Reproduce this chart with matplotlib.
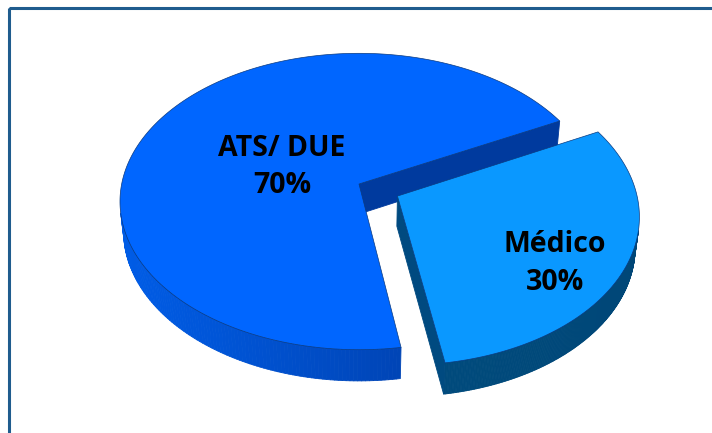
import numpy as np
import matplotlib
matplotlib.use("Agg")
import matplotlib.pyplot as plt
from matplotlib.patches import Polygon, Rectangle
from matplotlib.collections import PolyCollection

# ---- data -------------------------------------------------------------
categories = ["ATS/ DUE", "Médico"]
shares = [70, 30]

# ---- styling ------------------------------------------------------------
explode = [0.0, 0.18]
top_colors = ["#0066FF", "#0A98FF"]
wall_dark = [(0.00, 0.14, 0.45), (0.00, 0.27, 0.46)]
wall_light = [(0.00, 0.38, 0.94), (0.00, 0.31, 0.51)]
face_colors = ["#003A9E", "#004A80"]
label_pos = [(0.35, 290.0), (0.75, 125.0)]   # (radius, angle) in slice plane

W, H = 712, 433
fig = plt.figure(figsize=(W / 100, H / 100), dpi=100)
ax = fig.add_axes([0, 0, 1, 1])
ax.set_xlim(0, W)
ax.set_ylim(H, 0)
ax.axis("off")

# outer frame of the chart area
ax.add_patch(Rectangle((9, 8), W + 20, H + 20, fill=False,
                       edgecolor="#1F5C8E", linewidth=2.2, zorder=0))

# ---- perspective camera -------------------------------------------------
elev = np.radians(38.0)
dist = 6.67
focal = 1583.0
cx, cy = 359.0, 184.0
thick = 0.163
start_phi = 171.0
cam = np.array([0.0, -dist * np.cos(elev), dist * np.sin(elev)])
light = np.array([-0.8, -0.2, 0.55])
light /= np.linalg.norm(light)


def proj(X, Y, Z):
    X, Y, Z = np.asarray(X, float), np.asarray(Y, float), np.asarray(Z, float)
    depth = dist + Y * np.cos(elev) - Z * np.sin(elev)
    return cx + focal * X / depth, cy - focal * (Y * np.sin(elev) + Z * np.cos(elev)) / depth


def lerp(c0, c1, t):
    return tuple(min(1.0, max(0.0, a + (b - a) * t)) for a, b in zip(c0, c1))


spans = np.array(shares, float) / sum(shares) * 360.0
starts = start_phi + np.concatenate([[0], np.cumsum(spans)[:-1]])

slices = []
for i, (a0, sp) in enumerate(zip(starts, spans)):
    a1 = a0 + sp
    mid = np.radians(a0 + sp / 2)
    ox, oy = explode[i] * np.sin(mid), explode[i] * np.cos(mid)
    slices.append((i, a0, a1, ox, oy))

# paint far slices first
slices.sort(key=lambda s: -s[4])

for i, a0, a1, ox, oy in slices:
    phis = np.radians(np.linspace(a0, a1, 300))
    rx, ry = ox + np.sin(phis), oy + np.cos(phis)

    # outer wall, only the parts that face the camera
    quads, cols = [], []
    for k in range(len(phis) - 1):
        pm = 0.5 * (phis[k] + phis[k + 1])
        n = np.array([np.sin(pm), np.cos(pm), 0.0])
        p = np.array([ox + np.sin(pm), oy + np.cos(pm), -thick / 2])
        if np.dot(cam - p, n) <= 0:
            continue
        xs = [rx[k], rx[k + 1], rx[k + 1], rx[k]]
        ys = [ry[k], ry[k + 1], ry[k + 1], ry[k]]
        zs = [0, 0, -thick, -thick]
        sx, sy = proj(xs, ys, zs)
        quads.append(np.column_stack([sx, sy]))
        t = (np.dot(n, light) + 1) / 2
        cols.append(lerp(wall_dark[i], wall_light[i], t))
    if quads:
        ax.add_collection(PolyCollection(quads, facecolors=cols, edgecolors=cols,
                                         linewidths=0.6, zorder=2))

    # radial side faces
    for ang, sign in ((a0, -1), (a1, 1)):
        a = np.radians(ang)
        n = sign * np.array([np.cos(a), -np.sin(a), 0.0])
        p = np.array([ox + 0.5 * np.sin(a), oy + 0.5 * np.cos(a), -thick / 2])
        if np.dot(cam - p, n) <= 0:
            continue
        xs = [ox, ox + np.sin(a), ox + np.sin(a), ox]
        ys = [oy, oy + np.cos(a), oy + np.cos(a), oy]
        zs = [0, 0, -thick, -thick]
        sx, sy = proj(xs, ys, zs)
        ax.add_patch(Polygon(np.column_stack([sx, sy]), closed=True,
                             facecolor=face_colors[i], edgecolor=face_colors[i],
                             linewidth=0.6, zorder=2))

    # top face
    tx, ty = proj(np.concatenate([[ox], rx]), np.concatenate([[oy], ry]),
                  np.zeros(len(rx) + 1))
    ax.add_patch(Polygon(np.column_stack([tx, ty]), closed=True,
                         facecolor=top_colors[i], edgecolor="#0A3A80",
                         linewidth=0.5, zorder=2))

    # label
    lr, la = label_pos[i]
    la = np.radians(la)
    lx, ly = proj(ox + lr * np.sin(la), oy + lr * np.cos(la), 0.0)
    ax.text(float(lx), float(ly), f"{categories[i]}\n{shares[i]}%",
            ha="center", va="center", fontsize=20.5, fontweight="bold",
            family="Open Sans", linespacing=1.38, color="black", zorder=5)

fig.savefig("out.png", dpi=100)
